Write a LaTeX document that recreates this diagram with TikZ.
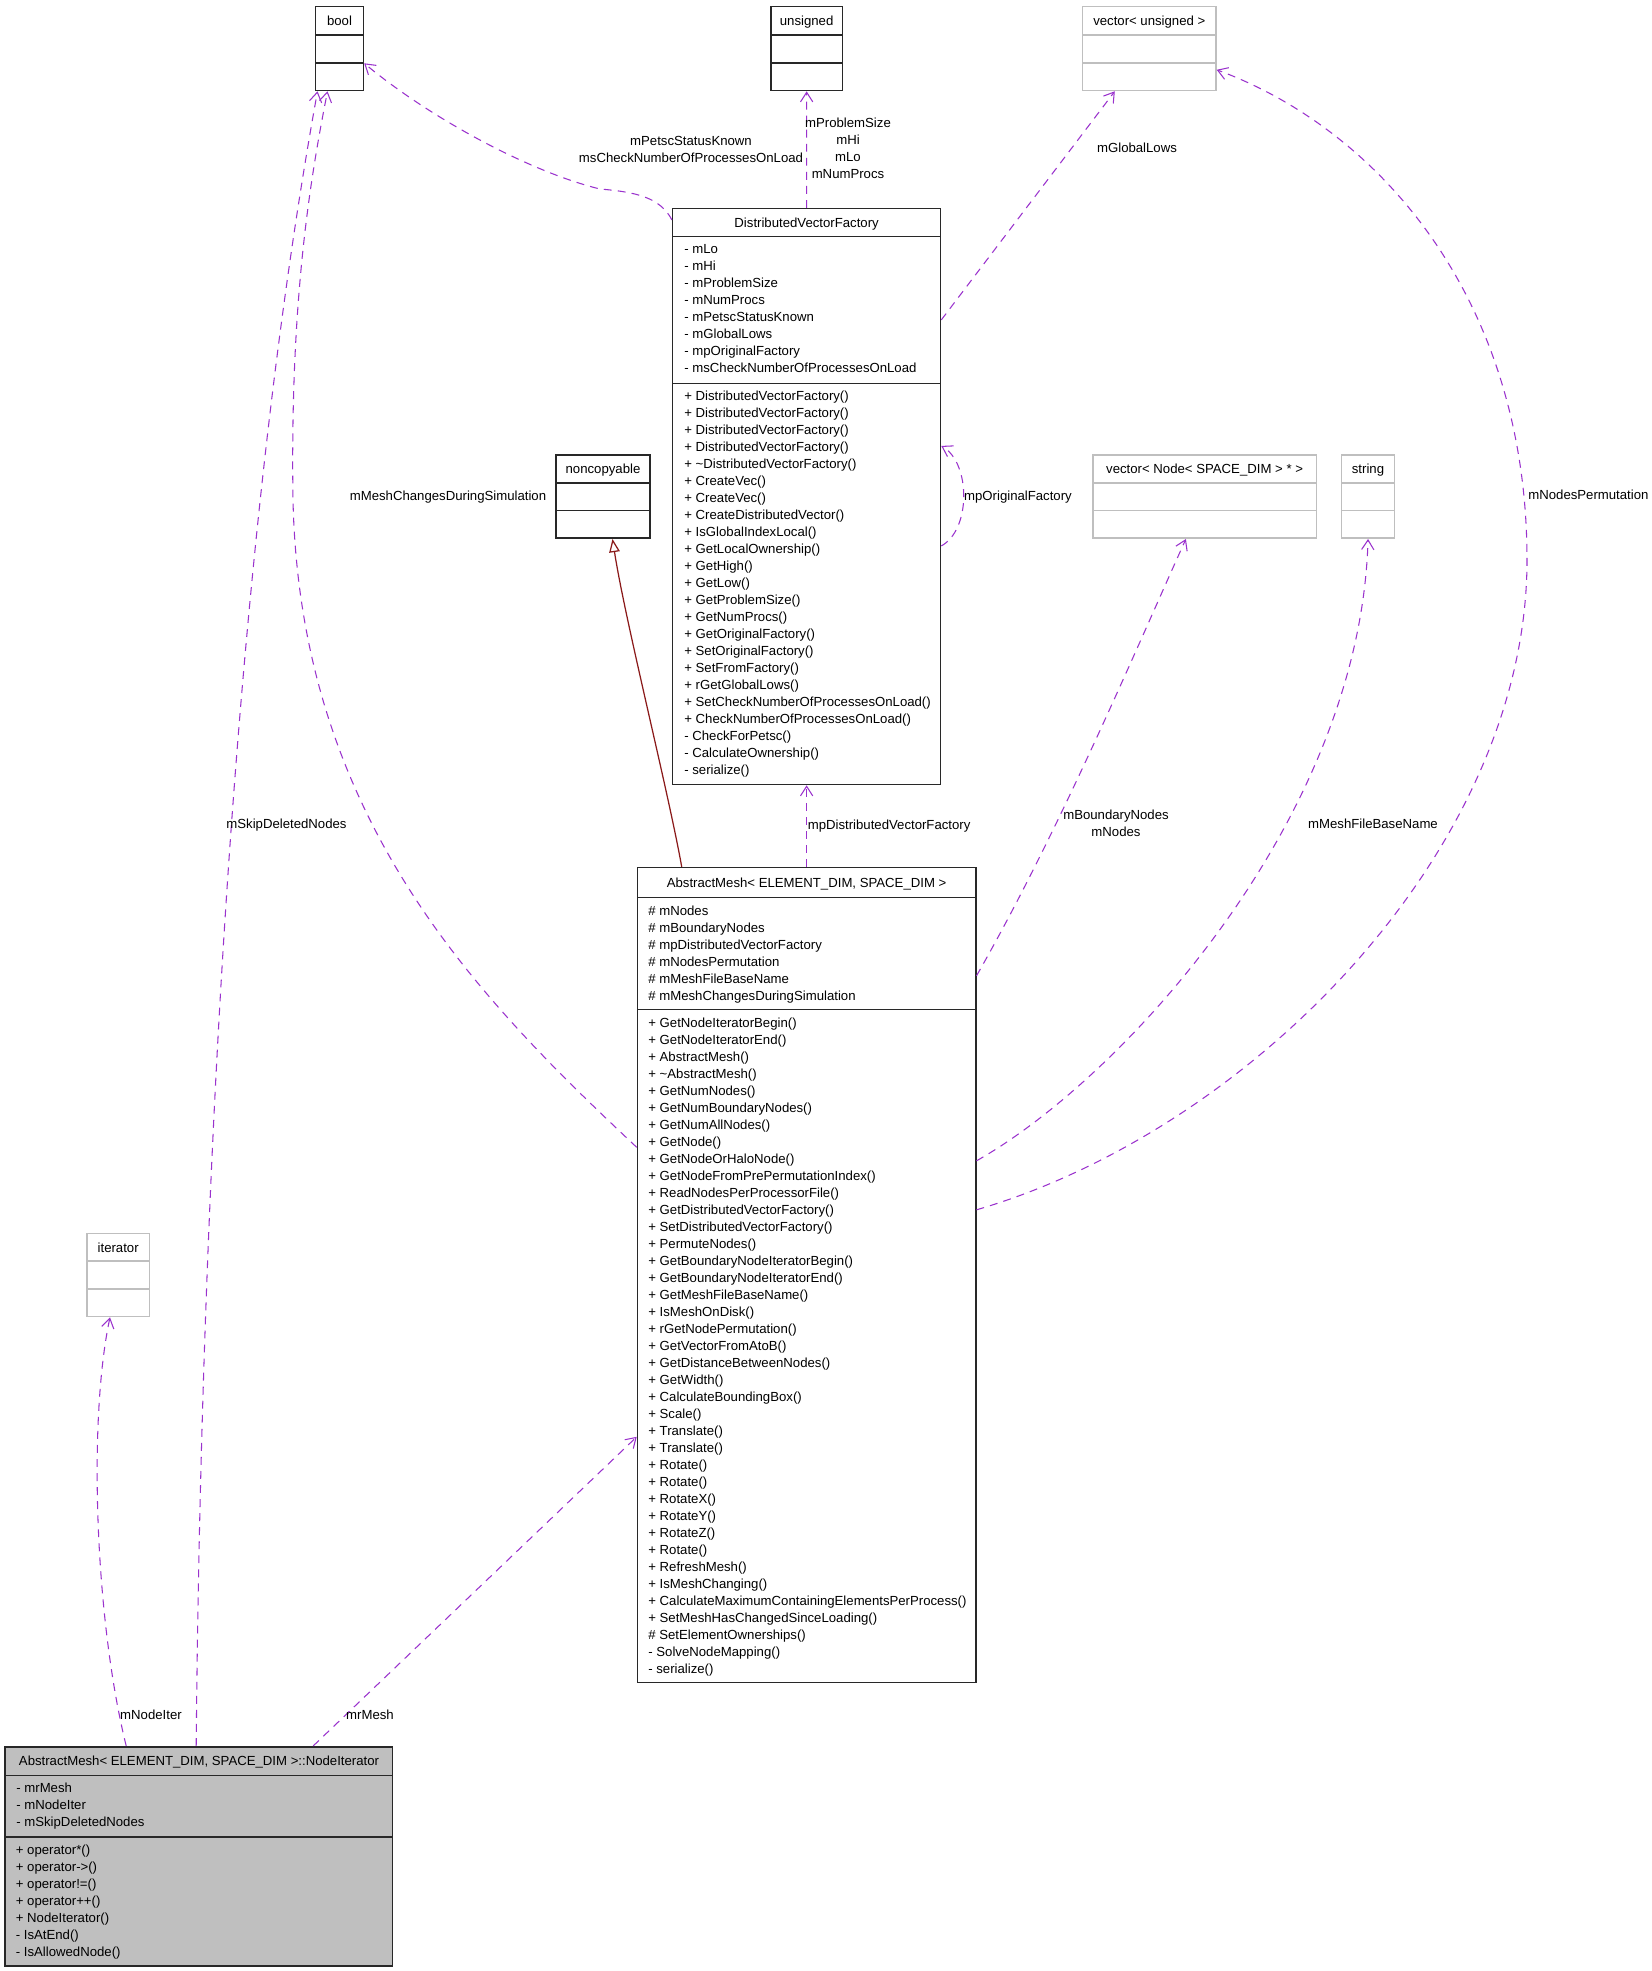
\documentclass[tikz,border=0pt]{standalone}
\usepackage{fontspec}
\setmainfont{Liberation Sans}
\usetikzlibrary{arrows.meta,calc,fit}
\definecolor{cEdge}{RGB}{154,50,205}
\definecolor{cInh}{RGB}{139,26,26}
\definecolor{cGrey}{RGB}{191,191,191}
\definecolor{cLine}{RGB}{40,40,40}

\begin{document}
\begin{tikzpicture}[x=0.02cm,y=-0.02cm,
  txt/.style={font=\fontsize{7.5}{9}\selectfont,inner sep=0pt},
  member/.style={txt,anchor=base west},
  clstitle/.style={txt,anchor=base},
  elabel/.style={txt,anchor=base},
  cls/.style={draw=cLine,line width=0.9pt,inner sep=0pt},
  ext/.style={draw=cGrey,line width=0.9pt,inner sep=0pt},
  usage/.style={cEdge,line width=0.6pt,dash pattern=on 4.5pt off 3.5pt,-{Straight Barb[length=5.5pt,width=7pt]}},
  inherit/.style={cInh,line width=0.7pt,-{Triangle[open,length=7.5pt,width=6pt,fill=white]}}]
\fill[white] (0,0) rectangle (1651,1971);
\useasboundingbox (0,0) rectangle (1651,1971);

% boxes
\node[cls,fit={(315.6,6.3) (363.4,90.5)}] (bool) {};
\draw[cls] (315.6,35) -- (363.4,35);
\draw[cls] (315.6,62.8) -- (363.4,62.8);
\node[clstitle] (boolT) at (339.5,25.2) {bool};

\node[cls,fit={(770.8,6.3) (842.5,90.5)}] (uns) {};
\draw[cls] (770.8,35) -- (842.5,35);
\draw[cls] (770.8,62.8) -- (842.5,62.8);
\node[clstitle] (unsT) at (806.6,25.2) {unsigned};

\node[ext,fit={(1082.6,6.3) (1215.9,90.5)}] (vecu) {};
\draw[ext] (1082.6,35) -- (1215.9,35);
\draw[ext] (1082.6,62.8) -- (1215.9,62.8);
\node[clstitle] (vecuT) at (1149.3,25.2) {vector< unsigned >};

\node[cls,fit={(555.8,455.2) (650.1,538.2)}] (noncp) {};
\draw[cls] (555.8,483) -- (650.1,483);
\draw[cls] (555.8,510.7) -- (650.1,510.7);
\node[clstitle] (noncpT) at (603,473.6) {noncopyable};

\node[ext,fit={(1092.7,455.2) (1316.5,538.2)}] (vecn) {};
\draw[ext] (1092.7,483) -- (1316.5,483);
\draw[ext] (1092.7,510.7) -- (1316.5,510.7);
\node[clstitle] (vecnT) at (1204.6,473.6) {vector< Node< SPACE\_DIM > * >};

\node[ext,fit={(1341.6,455.2) (1394.5,538.2)}] (str) {};
\draw[ext] (1341.6,483) -- (1394.5,483);
\draw[ext] (1341.6,510.7) -- (1394.5,510.7);
\node[clstitle] (strT) at (1368,473.6) {string};

\node[ext,fit={(86.8,1233.5) (149.6,1316.5)}] (iter) {};
\draw[ext] (86.8,1261.2) -- (149.6,1261.2);
\draw[ext] (86.8,1288.8) -- (149.6,1288.8);
\node[clstitle] (iterT) at (118.2,1252) {iterator};

% DistributedVectorFactory
\node[cls,fit={(672.7,208.7) (940.5,784.5)}] (dvf) {};
\draw[cls] (672.7,236.4) -- (940.5,236.4);
\draw[cls] (672.7,383.5) -- (940.5,383.5);
\node[clstitle] (dvfT) at (806.6,227.1) {DistributedVectorFactory};
\foreach \t [count=\i from 0] in {- mLo, - mHi, - mProblemSize, - mNumProcs,
  - mPetscStatusKnown, - mGlobalLows, - mpOriginalFactory,
  - msCheckNumberOfProcessesOnLoad}
  \node[member] (dvfa\i) at (684,{253.6+17*\i}) {\t};
\foreach \t [count=\i from 0] in {+ DistributedVectorFactory(),
  + DistributedVectorFactory(), + DistributedVectorFactory(),
  + DistributedVectorFactory(), + \textasciitilde DistributedVectorFactory(),
  + CreateVec(), + CreateVec(), + CreateDistributedVector(),
  + IsGlobalIndexLocal(), + GetLocalOwnership(), + GetHigh(), + GetLow(),
  + GetProblemSize(), + GetNumProcs(), + GetOriginalFactory(),
  + SetOriginalFactory(), + SetFromFactory(), + rGetGlobalLows(),
  + SetCheckNumberOfProcessesOnLoad(), + CheckNumberOfProcessesOnLoad(),
  - CheckForPetsc(), - CalculateOwnership(), - serialize()}
  \node[member] (dvfm\i) at (684,{400.6+17*\i}) {\t};

% AbstractMesh
\node[cls,fit={(637.5,867.6) (975.7,1682.5)}] (am) {};
\draw[cls] (637.5,897.3) -- (975.7,897.3);
\draw[cls] (637.5,1009.5) -- (975.7,1009.5);
\node[clstitle] (amT) at (806.6,887.1) {AbstractMesh< ELEMENT\_DIM, SPACE\_DIM >};
\foreach \t [count=\i from 0] in {\# mNodes, \# mBoundaryNodes,
  \# mpDistributedVectorFactory, \# mNodesPermutation, \# mMeshFileBaseName,
  \# mMeshChangesDuringSimulation}
  \node[member] (ama\i) at (648,{915.1+17*\i}) {\t};
\foreach \t [count=\i from 0] in {+ GetNodeIteratorBegin(), + GetNodeIteratorEnd(),
  + AbstractMesh(), + \textasciitilde AbstractMesh(), + GetNumNodes(),
  + GetNumBoundaryNodes(), + GetNumAllNodes(), + GetNode(), + GetNodeOrHaloNode(),
  + GetNodeFromPrePermutationIndex(), + ReadNodesPerProcessorFile(),
  + GetDistributedVectorFactory(), + SetDistributedVectorFactory(),
  + PermuteNodes(), + GetBoundaryNodeIteratorBegin(),
  + GetBoundaryNodeIteratorEnd(), + GetMeshFileBaseName(), + IsMeshOnDisk(),
  + rGetNodePermutation(), + GetVectorFromAtoB(), + GetDistanceBetweenNodes(),
  + GetWidth(), + CalculateBoundingBox(), + Scale(), + Translate(),
  + Translate(), + Rotate(), + Rotate(), + RotateX(), + RotateY(), + RotateZ(),
  + Rotate(), + RefreshMesh(), + IsMeshChanging(),
  + CalculateMaximumContainingElementsPerProcess(),
  + SetMeshHasChangedSinceLoading(), \# SetElementOwnerships(),
  - SolveNodeMapping(), - serialize()}
  \node[member] (amm\i) at (648,{1027.6+17*\i}) {\t};

% NodeIterator
\node[cls,fill=cGrey,fit={(5,1746.7) (392.5,1966)}] (nit) {};
\draw[cls] (5,1775.3) -- (392.5,1775.3);
\draw[cls] (5,1836.7) -- (392.5,1836.7);
\node[clstitle] (nitT) at (199,1765.6) {AbstractMesh< ELEMENT\_DIM, SPACE\_DIM >::NodeIterator};
\foreach \t [count=\i from 0] in {- mrMesh, - mNodeIter, - mSkipDeletedNodes}
  \node[member] (nita\i) at (16,{1792.1+17*\i}) {\t};
\foreach \t [count=\i from 0] in {+ operator*(), + operator->(), + operator!=(),
  + operator++(), + NodeIterator(), - IsAtEnd(), - IsAllowedNode()}
  \node[member] (nitm\i) at (15.5,{1854.1+17*\i}) {\t};

% connectors
\draw[usage] ($(nit.north west)+(122,0)$) .. controls (95,1620) and (88,1420) .. ($(iter.south west)+(24,0)$);
\node[elabel] (lNodeIter) at (151,1719.6) {mNodeIter};
\draw[usage] ($(nit.north west)+(192,0)$) .. controls (200,1300) and (225,600) .. ($(bool.south west)+(2.7,0)$);
\node[elabel] (lSkip) at (286.5,828.6) {mSkipDeletedNodes};
\draw[usage] ($(nit.north west)+(309,0)$) -- ($(am.north west)+(0,570)$);
\node[elabel] (lrMesh) at (370,1719.6) {mrMesh};
\draw[usage] ($(am.north west)+(0,280.5)$) .. controls (480,1000) and (300,820) .. (293,500)
  .. controls (290,300) and (310,180) .. ($(bool.south west)+(12.7,0)$);
\node[elabel] (lChanges) at (448,500.1) {mMeshChangesDuringSimulation};
\draw[usage] ($(dvf.north west)+(0,12)$) .. controls (660,197) and (635,192) .. (600,189)
  .. controls (530,172) and (430,118) .. ($(bool.south east)+(0,-28)$);
\node[elabel] (lPetsc) at (691,145.6) {mPetscStatusKnown};
\node[elabel] (lCheck) at (691,162.6) {msCheckNumberOfProcessesOnLoad};
\draw[usage] (dvf.north) -- (uns.south);
\node[elabel] (lProb) at (848,127.8) {mProblemSize};
\node[elabel] (lHi) at (848,144.6) {mHi};
\node[elabel] (lLo) at (848,161.8) {mLo};
\node[elabel] (lNum) at (848,178.4) {mNumProcs};
\draw[usage] ($(dvf.north east)+(0,112)$) -- ($(vecu.south west)+(33,0)$);
\node[elabel] (lLows) at (1137,152.6) {mGlobalLows};
\draw[usage] ($(am.north east)+(0,343)$) .. controls (1250,1130) and (1527,850) .. (1527,560)
  .. controls (1527,300) and (1380,130) .. ($(vecu.south east)+(0,-21.5)$);
\node[elabel,anchor=base west] (lPerm) at (1528,499.6) {mNodesPermutation};
\draw[usage] ($(dvf.north east)+(0,338)$) .. controls (971,530) and (971,463) .. ($(dvf.north east)+(0,238)$);
\node[elabel,anchor=base west] (lOrig) at (963.8,500.6) {mpOriginalFactory};
\draw[inherit] ($(am.north west)+(45,0)$) .. controls (668,790) and (625,620) .. ($(noncp.south west)+(57.5,0)$);
\draw[usage] (am.north) -- (dvf.south);
\node[elabel,anchor=base west] (lpDVF) at (807.5,829.1) {mpDistributedVectorFactory};
\draw[usage] ($(am.north east)+(0,109)$) .. controls (1060,830) and (1140,640) .. ($(vecn.south west)+(94,0)$);
\node[elabel] (lBnd) at (1116,819.6) {mBoundaryNodes};
\node[elabel] (lNodes) at (1116,836.6) {mNodes};
\draw[usage] ($(am.north east)+(0,294)$) .. controls (1120,1080) and (1360,820) .. (str.south);
\node[elabel] (lFile) at (1373,828.6) {mMeshFileBaseName};
\end{tikzpicture}
\end{document}
